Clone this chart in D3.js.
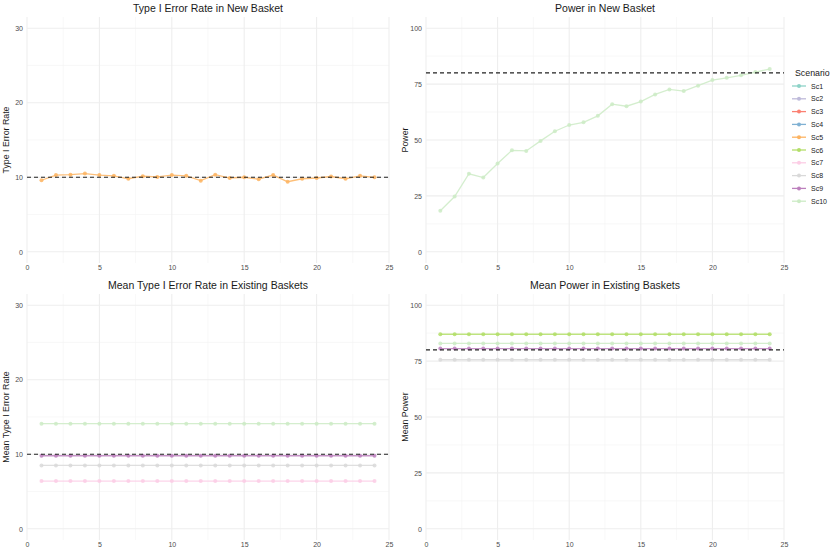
<!DOCTYPE html>
<html>
<head>
<meta charset="utf-8">
<script src="https://cdn.jsdelivr.net/npm/d3@7"></script>
<style>
	body { margin: 0; background: #fff; }
	svg text { font-family: "Liberation Sans", Arial, sans-serif; }
</style>
</head>
<body>
<svg id="chart" width="830" height="554"></svg>
<script>
// Scenario names and colours (legend order)
var scenarios = ["Sc1", "Sc2", "Sc3", "Sc4", "Sc5", "Sc6", "Sc7", "Sc8", "Sc9", "Sc10"];
var scenarioColors = ["#8DD3C7", "#BEBADA", "#FB8072", "#80B1D3", "#FDB462", "#B3DE69", "#FCCDE5", "#D9D9D9", "#BC80BD", "#CCEBC5"];

// x values (number of patients / step)
var steps = [1, 2, 3, 4, 5, 6, 7, 8, 9, 10, 11, 12, 13, 14, 15, 16, 17, 18, 19, 20, 21, 22, 23, 24];

// Type I error rate in new basket
var t1eNewSc5 = [9.6, 10.3, 10.35, 10.5, 10.3, 10.2, 9.8, 10.15, 10.05, 10.3, 10.2, 9.55, 10.35, 9.9, 10.0, 9.75, 10.3, 9.4, 9.8, 9.9, 10.1, 9.8, 10.2, 10.0];

// Power in new basket
var powerNewSc10 = [18.4, 24.7, 34.9, 33.2, 39.5, 45.4, 45.1, 49.6, 53.9, 56.7, 57.9, 60.8, 66.0, 65.1, 67.2, 70.4, 72.6, 71.9, 74.3, 76.8, 77.8, 78.9, 80.4, 81.7];

// Mean type I error rate in existing baskets
var t1eExSc7 = [6.4, 6.4, 6.4, 6.4, 6.4, 6.4, 6.4, 6.4, 6.4, 6.4, 6.4, 6.4, 6.4, 6.4, 6.4, 6.4, 6.4, 6.4, 6.4, 6.4, 6.4, 6.4, 6.4, 6.4];
var t1eExSc8 = [8.5, 8.5, 8.5, 8.5, 8.5, 8.5, 8.5, 8.5, 8.5, 8.5, 8.5, 8.5, 8.5, 8.5, 8.5, 8.5, 8.5, 8.5, 8.5, 8.5, 8.5, 8.5, 8.5, 8.5];
var t1eExSc9 = [9.8, 9.8, 9.8, 9.8, 9.8, 9.8, 9.8, 9.8, 9.8, 9.8, 9.8, 9.8, 9.8, 9.8, 9.8, 9.8, 9.8, 9.8, 9.8, 9.8, 9.8, 9.8, 9.8, 9.8];
var t1eExSc10 = [14.1, 14.1, 14.1, 14.1, 14.1, 14.1, 14.1, 14.1, 14.1, 14.1, 14.1, 14.1, 14.1, 14.1, 14.1, 14.1, 14.1, 14.1, 14.1, 14.1, 14.1, 14.1, 14.1, 14.1];

// Mean power in existing baskets
var powerExSc6 = [87.0, 87.0, 87.0, 87.0, 87.0, 87.0, 87.0, 87.0, 87.0, 87.0, 87.0, 87.0, 87.0, 87.0, 87.0, 87.0, 87.0, 87.0, 87.0, 87.0, 87.0, 87.0, 87.0, 87.0];
var powerExSc8 = [75.6, 75.6, 75.6, 75.6, 75.6, 75.6, 75.6, 75.6, 75.6, 75.6, 75.6, 75.6, 75.6, 75.6, 75.6, 75.6, 75.6, 75.6, 75.6, 75.6, 75.6, 75.6, 75.6, 75.6];
var powerExSc9 = [80.6, 80.6, 80.6, 80.6, 80.6, 80.6, 80.6, 80.6, 80.6, 80.6, 80.6, 80.6, 80.6, 80.6, 80.6, 80.6, 80.6, 80.6, 80.6, 80.6, 80.6, 80.6, 80.6, 80.6];
var powerExSc10 = [82.9, 82.9, 82.9, 82.9, 82.9, 82.9, 82.9, 82.9, 82.9, 82.9, 82.9, 82.9, 82.9, 82.9, 82.9, 82.9, 82.9, 82.9, 82.9, 82.9, 82.9, 82.9, 82.9, 82.9];

var xTicks = [0, 5, 10, 15, 20, 25];
var t1eTicks = [0, 10, 20, 30];
var powerTicks = [0, 25, 50, 75, 100];

var svg = d3.select("#chart");
var color = d3.scaleOrdinal().domain(scenarios).range(scenarioColors);

var panels = [
	{
		title: "Type I Error Rate in New Basket", yTitle: "Type I Error Rate",
		left: 27, right: 389, top: 17, bottom: 263,
		yMax: 30, yTicks: t1eTicks, ref: 10,
		series: [{ name: "Sc5", values: t1eNewSc5 }]
	},
	{
		title: "Power in New Basket", yTitle: "Power",
		left: 426, right: 784, top: 17, bottom: 263,
		yMax: 100, yTicks: powerTicks, ref: 80,
		series: [{ name: "Sc10", values: powerNewSc10 }]
	},
	{
		title: "Mean Type I Error Rate in Existing Baskets", yTitle: "Mean Type I Error Rate",
		left: 27, right: 389, top: 294, bottom: 540,
		yMax: 30, yTicks: t1eTicks, ref: 10,
		series: [
			{ name: "Sc7", values: t1eExSc7 },
			{ name: "Sc8", values: t1eExSc8 },
			{ name: "Sc9", values: t1eExSc9 },
			{ name: "Sc10", values: t1eExSc10 }
		]
	},
	{
		title: "Mean Power in Existing Baskets", yTitle: "Mean Power",
		left: 426, right: 784, top: 294, bottom: 540,
		yMax: 100, yTicks: powerTicks, ref: 80,
		series: [
			{ name: "Sc6", values: powerExSc6 },
			{ name: "Sc8", values: powerExSc8 },
			{ name: "Sc9", values: powerExSc9 },
			{ name: "Sc10", values: powerExSc10 }
		]
	}
];

panels.forEach(drawPanel);
drawLegend();

function drawPanel(p) {
	var pad = p.yMax * 0.05;
	var x = d3.scaleLinear().domain([0, 25]).range([p.left, p.right]);
	var y = d3.scaleLinear().domain([-pad, p.yMax + pad]).range([p.bottom, p.top]);
	var g = svg.append("g");

	// minor grid
	var yStep = p.yTicks[1] - p.yTicks[0];
	var yMinor = p.yTicks.slice(0, -1).map(function (t) { return t + yStep / 2; });
	var xMinor = xTicks.slice(0, -1).map(function (t) { return t + 2.5; });

	g.selectAll(".yminor").data(yMinor).enter().append("line")
		.attr("x1", p.left).attr("x2", p.right)
		.attr("y1", d => y(d)).attr("y2", d => y(d))
		.attr("stroke", "#f3f3f3").attr("stroke-width", 0.6);
	g.selectAll(".xminor").data(xMinor).enter().append("line")
		.attr("x1", d => x(d)).attr("x2", d => x(d))
		.attr("y1", p.top).attr("y2", p.bottom)
		.attr("stroke", "#f3f3f3").attr("stroke-width", 0.6);

	// major grid
	g.selectAll(".ymajor").data(p.yTicks).enter().append("line")
		.attr("x1", p.left).attr("x2", p.right)
		.attr("y1", d => y(d)).attr("y2", d => y(d))
		.attr("stroke", "#eeeeee").attr("stroke-width", 1.1);
	g.selectAll(".xmajor").data(xTicks).enter().append("line")
		.attr("x1", d => x(d)).attr("x2", d => x(d))
		.attr("y1", p.top).attr("y2", p.bottom)
		.attr("stroke", "#eeeeee").attr("stroke-width", 1.1);

	// axes
	var yAxis = g.append("g")
		.attr("transform", "translate(" + p.left + ",0)")
		.call(d3.axisLeft(y).tickValues(p.yTicks).tickSize(0).tickPadding(4));
	var xAxis = g.append("g")
		.attr("transform", "translate(0," + p.bottom + ")")
		.call(d3.axisBottom(x).tickValues(xTicks).tickSize(0).tickPadding(2));
	[xAxis, yAxis].forEach(function (a) {
		a.select(".domain").remove();
		a.selectAll("text")
			.attr("fill", "#4d4d4d")
			.style("font-size", "7px");
	});

	// title
	g.append("text")
		.attr("x", (p.left + p.right) / 2)
		.attr("y", p.top - 5)
		.attr("text-anchor", "middle")
		.style("font-size", "10.5px")
		.attr("fill", "#1a1a1a")
		.text(p.title);

	// y axis title
	g.append("text")
		.attr("transform", "translate(" + (p.left - 18) + "," + ((p.top + p.bottom) / 2) + ") rotate(-90)")
		.attr("text-anchor", "middle")
		.style("font-size", "8.8px")
		.attr("fill", "#1a1a1a")
		.text(p.yTitle);

	// series
	var line = d3.line()
		.x((d, i) => x(steps[i]))
		.y(d => y(d));

	p.series.forEach(function (s) {
		g.append("path")
			.datum(s.values)
			.attr("d", line)
			.attr("fill", "none")
			.attr("stroke", color(s.name))
			.attr("stroke-width", 1.3)
			.attr("opacity", 0.85);
		g.selectAll(null).data(s.values).enter().append("circle")
			.attr("cx", (d, i) => x(steps[i]))
			.attr("cy", d => y(d))
			.attr("r", 2)
			.attr("fill", color(s.name))
			.attr("opacity", 0.85);
	});

	// reference line
	g.append("line")
		.attr("x1", p.left).attr("x2", p.right)
		.attr("y1", y(p.ref)).attr("y2", y(p.ref))
		.attr("stroke", "#222")
		.attr("stroke-width", 1.1)
		.attr("stroke-dasharray", "4,3");
}

function drawLegend() {
	var lg = svg.append("g").attr("transform", "translate(791,0)");
	lg.append("text")
		.attr("x", 4).attr("y", 76)
		.style("font-size", "8.8px")
		.attr("fill", "#1a1a1a")
		.text("Scenario");

	var item = lg.selectAll(".item").data(scenarios).enter().append("g")
		.attr("transform", (d, i) => "translate(0," + (86 + i * 12.8) + ")");
	item.append("line")
		.attr("x1", 1).attr("x2", 15)
		.attr("stroke", d => color(d))
		.attr("stroke-width", 1.3);
	item.append("circle")
		.attr("cx", 8).attr("r", 2)
		.attr("fill", d => color(d));
	item.append("text")
		.attr("x", 20).attr("y", 2.6)
		.style("font-size", "7px")
		.attr("fill", "#1a1a1a")
		.text(d => d);
}
</script>
</body>
</html>
